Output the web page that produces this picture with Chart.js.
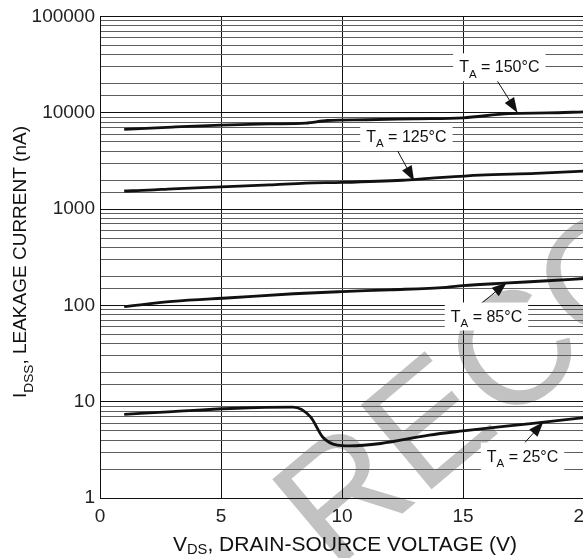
<!DOCTYPE html>
<html>
<head>
<meta charset="utf-8">
<script src="https://cdn.jsdelivr.net/npm/chart.js@4.4.0/dist/chart.umd.min.js"></script>
<style>
  html, body { margin: 0; padding: 0; background: #fff; overflow: hidden; }
  #wrap { position: absolute; left: 0; top: 0; width: 620px; height: 558px; }
</style>
</head>
<body>
<div id="wrap"><canvas id="myChart" width="620" height="558"></canvas></div>
<script>
// leakage current I_DSS vs V_DS for four junction temperatures
const FONT = "'Liberation Sans', Arial, sans-serif";

const xTicks = [0, 5, 10, 15, 20];
const yTicks = [1, 10, 100, 1000, 10000, 100000];

const v150 = [1, 3, 5, 7, 8.5, 9.4, 11, 13, 15, 16.9, 18.5, 20];
const i150 = [6700, 7100, 7450, 7650, 7800, 8300, 8450, 8650, 8850, 9800, 9950, 10200];

const v125 = [1, 2, 3, 5, 7, 8.5, 10, 12.5, 13.6, 15.7, 18, 20];
const i125 = [1540, 1570, 1620, 1700, 1780, 1860, 1890, 1990, 2080, 2250, 2350, 2480];

const v85 = [1, 3, 5.4, 8, 10, 12, 14.3, 15, 16.7, 18.5, 20];
const i85 = [97, 110, 120, 132, 139, 145, 154, 160, 170, 180, 190];

const v25 = [1, 3, 5.4, 7.97, 8.7, 9.2, 9.8, 10.3, 11.6, 13.6, 15, 17.8, 20];
const i25 = [7.4, 7.9, 8.5, 8.8, 6.95, 4.3, 3.54, 3.48, 3.68, 4.5, 4.97, 5.93, 6.84];

// label centre, arrow tail and arrow tip, in data units
const notes = [
    { temp: '150°C', lx: 16.5, ly: 29600, fx: 16.4, fy: 21700, tx: 17.25, ty: 10000 },
    { temp: '125°C', lx: 12.66, ly: 5590, fx: 12.26, fy: 4170, tx: 12.98, ty: 1960 },
    { temp: '85°C', lx: 15.97, ly: 76.6, fx: 15.77, fy: 105, tx: 16.81, ty: 173 },
    { temp: '25°C', lx: 17.46, ly: 2.69, fx: 17.56, fy: 3.77, tx: 18.32, ty: 6.17 }
];

function pts(xs, ys) {
    return xs.map((x, i) => ({ x: x, y: ys[i] }));
}

function line(label, xs, ys) {
    return {
        label: label,
        data: pts(xs, ys),
        borderColor: '#111',
        borderWidth: 2.8,
        pointRadius: 0,
        fill: false,
        cubicInterpolationMode: 'monotone'
    };
}

function rich(c, parts, x, y, size) {
    let w = 0;
    parts.forEach(p => {
        c.font = (p.sub ? size * p.sub : size) + 'px ' + FONT;
        w += c.measureText(p.t).width;
    });
    let cx = x - w / 2;
    parts.forEach(p => {
        c.font = (p.sub ? size * p.sub : size) + 'px ' + FONT;
        c.fillText(p.t, cx, y + (p.sub ? size * p.dy : 0));
        cx += c.measureText(p.t).width;
    });
    return w;
}

const watermark = {
    id: 'watermark',
    beforeDraw(chart) {
        const c = chart.ctx;
        c.save();
        c.translate(333, 572);
        c.rotate(-40 * Math.PI / 180);
        c.font = '160px ' + FONT;
        c.fillStyle = '#c2c2c2';
        c.textAlign = 'left';
        c.textBaseline = 'alphabetic';
        c.fillText('RECOMMENDED', 0, 0);
        c.restore();
    }
};

const extras = {
    id: 'extras',
    afterDraw(chart) {
        const c = chart.ctx;
        const xs = chart.scales.x, ys = chart.scales.y;
        c.save();
        c.fillStyle = '#111';
        c.textAlign = 'left';
        c.textBaseline = 'alphabetic';
        // x title
        rich(c, [{ t: 'V' }, { t: 'DS', sub: 0.7, dy: 0.15 }, { t: ', DRAIN-SOURCE VOLTAGE (V)' }], 345, 551, 21);
        // y title
        c.save();
        c.translate(26, 262);
        c.rotate(-Math.PI / 2);
        rich(c, [{ t: 'I' }, { t: 'DSS', sub: 0.72, dy: 0.35 }, { t: ', LEAKAGE CURRENT (nA)' }], 0, 0, 19);
        c.restore();

        notes.forEach(n => {
            const lx = xs.getPixelForValue(n.lx), ly = ys.getPixelForValue(n.ly);
            const fx = xs.getPixelForValue(n.fx), fy = ys.getPixelForValue(n.fy);
            const tx = xs.getPixelForValue(n.tx), ty = ys.getPixelForValue(n.ty);
            // arrow
            c.strokeStyle = '#111';
            c.lineWidth = 1;
            c.beginPath();
            c.moveTo(fx, fy);
            c.lineTo(tx, ty);
            c.stroke();
            const a = Math.atan2(ty - fy, tx - fx);
            c.beginPath();
            c.moveTo(tx, ty);
            c.lineTo(tx - 15 * Math.cos(a) + 5.5 * Math.sin(a), ty - 15 * Math.sin(a) - 5.5 * Math.cos(a));
            c.lineTo(tx - 15 * Math.cos(a) - 5.5 * Math.sin(a), ty - 15 * Math.sin(a) + 5.5 * Math.cos(a));
            c.closePath();
            c.fill();
            // label box
            const parts = [{ t: 'T' }, { t: 'A', sub: 0.72, dy: 0.33 }, { t: ' = ' + n.temp }];
            let w = 0;
            parts.forEach(p => {
                c.font = (p.sub ? 16 * p.sub : 16) + 'px ' + FONT;
                w += c.measureText(p.t).width;
            });
            c.fillStyle = '#fff';
            c.fillRect(lx - w / 2 - 6, ly - 14, w + 12, 28);
            c.fillStyle = '#111';
            rich(c, parts, lx, ly + 5, 16);
        });
        c.restore();
    }
};

const ctx = document.getElementById('myChart').getContext('2d');
const myChart = new Chart(ctx, {
    type: 'line',
    data: {
        datasets: [
            line('TA = 150°C', v150, i150),
            line('TA = 125°C', v125, i125),
            line('TA = 85°C', v85, i85),
            line('TA = 25°C', v25, i25)
        ]
    },
    options: {
        responsive: false,
        animation: false,
        layout: { padding: { top: 15, right: 36, left: 0, bottom: 0 } },
        plugins: {
            legend: { display: false },
            tooltip: { enabled: false }
        },
        scales: {
            x: {
                type: 'linear',
                min: 0,
                max: 20,
                afterFit: s => { s.height = 60; },
                afterBuildTicks: s => { s.ticks = xTicks.map(v => ({ value: v })); },
                grid: { color: '#111', lineWidth: 1, drawTicks: false },
                border: { color: '#111', width: 1 },
                ticks: {
                    padding: 7,
                    color: '#222',
                    font: { family: FONT, size: 19 },
                    maxRotation: 0
                }
            },
            y: {
                type: 'logarithmic',
                min: 1,
                max: 100000,
                afterFit: s => { s.width = 100; },
                grid: {
                    drawTicks: false,
                    lineWidth: 1,
                    color: g => {
                        const l = Math.log10(g.tick.value);
                        return Math.abs(l - Math.round(l)) < 1e-9 ? '#111' : '#5e5e5e';
                    }
                },
                border: { color: '#111', width: 1 },
                ticks: {
                    autoSkip: false,
                    padding: 5,
                    color: '#222',
                    font: { family: FONT, size: 19 },
                    callback: v => yTicks.includes(v) ? String(v) : ''
                }
            }
        }
    },
    plugins: [watermark, extras]
});
</script>
</body>
</html>
